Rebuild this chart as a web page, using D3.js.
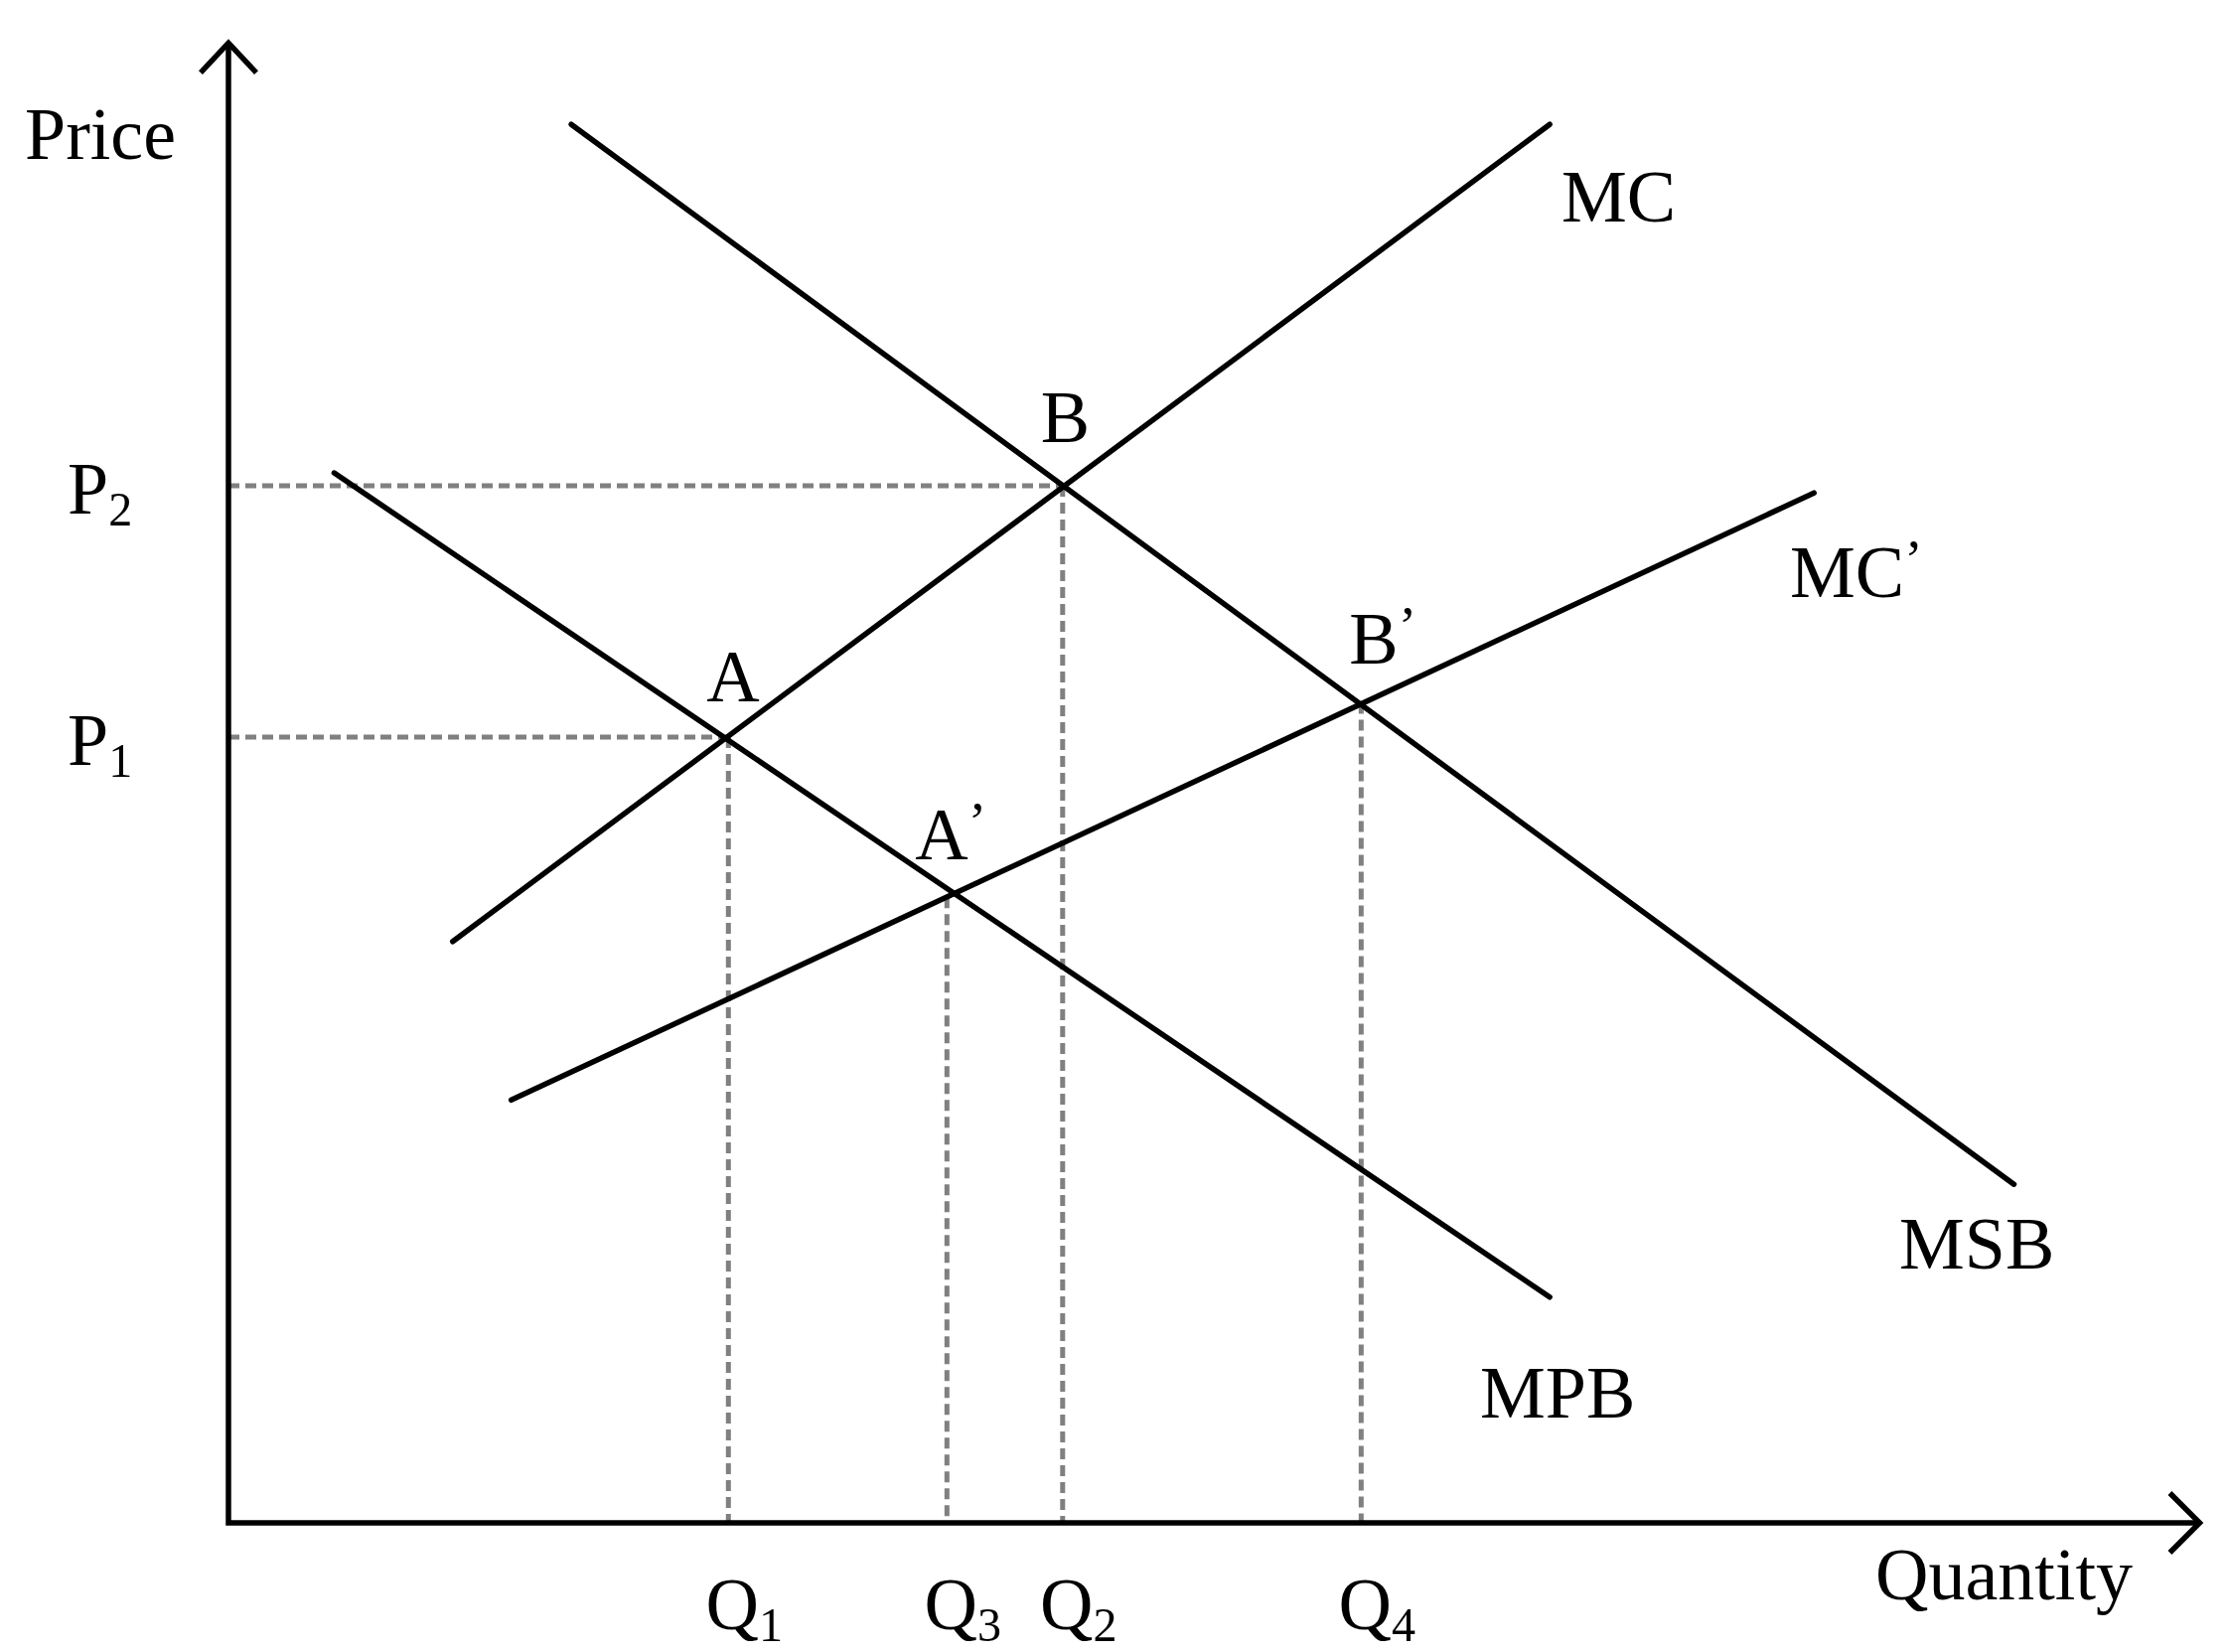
<!DOCTYPE html>
<html><head><meta charset="utf-8">
<script src="https://cdn.jsdelivr.net/npm/d3@7"></script>
<style>body{margin:0;background:#fff}text{font-family:"Liberation Serif","Times New Roman",serif;fill:#000}</style>
</head><body>
<script>
// curves as [q, p] end points, in chart units
var curveNames = ["MC", "MSB", "MPB", "MC'"];
var curveEnds = [[[157, 407], [925, 979]], [[240, 979], [1250, 237]], [[74, 735], [925, 158]], [[198, 296], [1110, 721]]];
var pointNames = ["A", "B", "A'", "B'"];
var pointQ = [350, 584, 503, 793];
var pointP = [550, 726, 438, 574];
var qLabels = ["Q1", "Q2", "Q3", "Q4"], qValues = [350, 584, 503, 793];
var pLabels = ["P1", "P2"], pValues = [550, 726];

var W = 2243, H = 1663, k = 1.438;
var x = d3.scaleLinear().domain([0, 1380]).range([230, 230 + 1380 * k]);
var y = d3.scaleLinear().domain([0, 1036]).range([1533, 1533 - 1036 * k]);
var svg = d3.select("body").append("svg").attr("width", W).attr("height", H);
var fs = 74;

// dashed guides
pValues.forEach(function(p, i) {
  svg.append("line").attr("x1", x(0)).attr("x2", x(pointQ[i === 0 ? 0 : 1])).attr("y1", y(p)).attr("y2", y(p))
    .attr("stroke", "#808080").attr("stroke-width", 5).attr("stroke-dasharray", "11,6");
});
qValues.forEach(function(q, i) {
  var pi = pointQ.indexOf(q);
  svg.append("line").attr("x1", x(q)).attr("x2", x(q)).attr("y1", y(pointP[pi])).attr("y2", y(0))
    .attr("stroke", "#808080").attr("stroke-width", 5).attr("stroke-dasharray", "11,6");
});

// curves
var line = d3.line().x(function(d) { return x(d[0]); }).y(function(d) { return y(d[1]); });
curveEnds.forEach(function(c) {
  svg.append("path").attr("d", line(c)).attr("stroke", "#000").attr("stroke-width", 5.5).attr("fill", "none").attr("stroke-linecap", "round");
});

// axes
svg.append("path").attr("d", line([[0, 1036], [0, 0], [1380, 0]])).attr("stroke", "#000").attr("stroke-width", 5.5).attr("fill", "none");
svg.append("path").attr("d", "M" + (x(0) - 28) + "," + (y(1036) + 30) + "L" + x(0) + "," + y(1036) + "L" + (x(0) + 28) + "," + (y(1036) + 30))
  .attr("stroke", "#000").attr("stroke-width", 5.5).attr("fill", "none");
svg.append("path").attr("d", "M" + (x(1380) - 30) + "," + (y(0) - 30) + "L" + x(1380) + "," + y(0) + "L" + (x(1380) - 30) + "," + (y(0) + 30))
  .attr("stroke", "#000").attr("stroke-width", 5.5).attr("fill", "none");

function label(txt, px, py, anchor) {
  var t = svg.append("text").attr("x", px).attr("y", py).attr("font-size", fs).attr("text-anchor", anchor || "start");
  var m = txt.match(/^([A-Z]+)(\d)$/);
  if (m) {
    t.append("tspan").text(m[1]);
    t.append("tspan").text(m[2]).attr("font-size", fs * 0.65).attr("dy", 12);
  } else if (txt.slice(-1) === "'") {
    t.append("tspan").text(txt.slice(0, -1));
    t.append("tspan").text("\u2019").attr("font-size", fs * 0.75).attr("dy", -20);
  } else t.text(txt);
  return t;
}

label("Price", 25, 160);
label("Quantity", 1888, 1610);
pLabels.forEach(function(l, i) { label(l, 68, y(pValues[i]) + 28); });
qLabels.forEach(function(l, i) { label(l, x(qValues[i]) + 16, 1640, "middle"); });
var curveLabelPos = [[1572, 223], [1912, 1277], [1490, 1427], [1802, 601]];
curveNames.forEach(function(n, i) { label(n, curveLabelPos[i][0], curveLabelPos[i][1]); });
var offs = [[-22, -36], [-22, -44], [-32, -38], [-12, -40]];
pointNames.forEach(function(n, i) { label(n, x(pointQ[i]) + offs[i][0], y(pointP[i]) + offs[i][1]); });
</script>
</body></html>
